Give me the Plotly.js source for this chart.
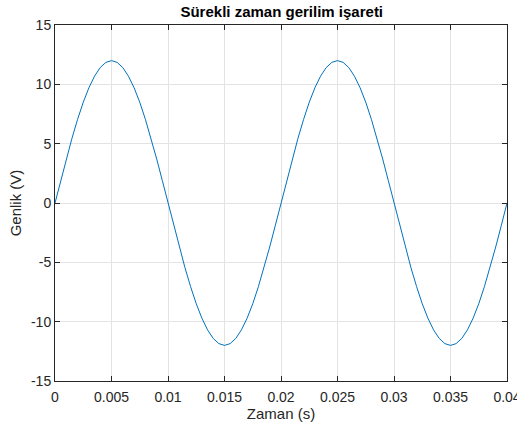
<!DOCTYPE html>
<html>
<head>
<meta charset="utf-8">
<script src="https://cdn.plot.ly/plotly-3.0.1.min.js"></script>
<style>html,body{margin:0;padding:0;background:#fff;}#chart{width:517px;height:430px;}</style>
</head>
<body>
<div id="chart"></div>
<script>
// Sample times (s), step 0.0005
const timeStart = 0;
const timeStep = 0.0005;
// Amplitude values (V)
const voltage = [
  0, 1.88, 3.71, 5.45, 7.05, 8.49, 9.71, 10.69, 11.41, 11.85,
  12, 11.85, 11.41, 10.69, 9.71, 8.49, 7.05, 5.45, 3.71, 1.88,
  0, -1.88, -3.71, -5.45, -7.05, -8.49, -9.71, -10.69, -11.41, -11.85,
  -12, -11.85, -11.41, -10.69, -9.71, -8.49, -7.05, -5.45, -3.71, -1.88,
  0, 1.88, 3.71, 5.45, 7.05, 8.49, 9.71, 10.69, 11.41, 11.85,
  12, 11.85, 11.41, 10.69, 9.71, 8.49, 7.05, 5.45, 3.71, 1.88,
  0, -1.88, -3.71, -5.45, -7.05, -8.49, -9.71, -10.69, -11.41, -11.85,
  -12, -11.85, -11.41, -10.69, -9.71, -8.49, -7.05, -5.45, -3.71, -1.88,
  0
];
const time = voltage.map((_, i) => +(timeStart + i * timeStep).toFixed(4));
const xTickVals = [0, 0.005, 0.01, 0.015, 0.02, 0.025, 0.03, 0.035, 0.04];
const xTickText = ['0', '0.005', '0.01', '0.015', '0.02', '0.025', '0.03', '0.035', '0.04'];
const yTickVals = [-15, -10, -5, 0, 5, 10, 15];
const yTickText = ['-15', '-10', '-5', '0', '5', '10', '15'];

const font = 'Liberation Sans, Arial, Helvetica, sans-serif';
const axisCommon = {
  showline: true, linecolor: '#262626', linewidth: 1, mirror: 'ticks',
  ticks: 'inside', ticklen: 5, tickcolor: '#262626', tickwidth: 1,
  showgrid: true, gridcolor: '#e3e3e3', gridwidth: 1,
  zeroline: false, ticklabeloverflow: 'allow',
  tickfont: {family: font, size: 14, color: '#262626'}
};
const data = [{
  x: time, y: voltage, type: 'scatter', mode: 'lines',
  line: {color: '#0072BD', width: 1}, hoverinfo: 'none'
}];
const layout = {
  width: 517, height: 430,
  margin: {l: 55, r: 10, t: 25, b: 49},
  paper_bgcolor: '#ffffff', plot_bgcolor: '#ffffff',
  showlegend: false,
  title: {text: '<b>Sürekli zaman gerilim işareti</b>', font: {family: font, size: 15, color: '#000'},
          x: 0.545, xanchor: 'center', y: 0.972, yanchor: 'middle'},
  xaxis: Object.assign({}, axisCommon, {
    range: [0, 0.04], tickvals: xTickVals, ticktext: xTickText, ticklabelstandoff: 3,
    title: {text: 'Zaman (s)', font: {family: font, size: 15, color: '#262626'}, standoff: 4}
  }),
  yaxis: Object.assign({}, axisCommon, {
    range: [-15, 15], tickvals: yTickVals, ticktext: yTickText,
    title: {text: 'Genlik (V)', font: {family: font, size: 15, color: '#262626'}, standoff: 5}
  })
};
Plotly.newPlot('chart', data, layout, {staticPlot: true, displayModeBar: false});
</script>
</body>
</html>
